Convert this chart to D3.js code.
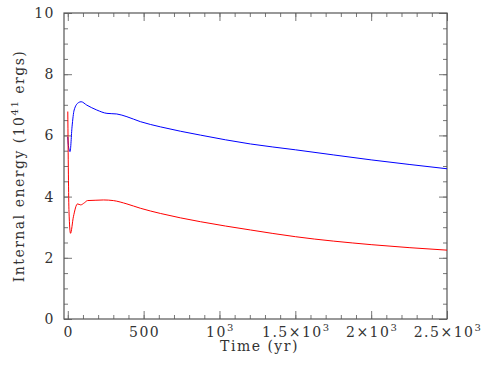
<!DOCTYPE html>
<html lang="en">
<head>
<meta charset="UTF-8">
<title>Internal energy</title>
<script src="https://cdn.jsdelivr.net/npm/d3@7"></script>
<style>
  body { margin: 0; background: #fff; }
  text { font-family: "DejaVu Serif", "Liberation Serif", serif; fill: #333; letter-spacing: 1.5px; }
</style>
</head>
<body>
<div id="chart"></div>
<script>
// data (time in yr, energy in 1e41 ergs)
var blueTime = [0, 5, 15, 28, 42, 70, 88, 125, 191, 258, 323, 390, 478, 610, 874, 1204, 1500, 2000, 2500];
var blueEnergy = [5.95, 5.62, 5.47, 6.28, 6.83, 7.07, 7.10, 6.99, 6.83, 6.72, 6.70, 6.61, 6.45, 6.28, 6.01, 5.72, 5.53, 5.20, 4.91];
var redTime = [0, 8, 18, 37, 64, 85, 110, 130, 180, 235, 300, 390, 478, 610, 874, 1204, 1500, 2000, 2500];
var redEnergy = [6.78, 3.50, 2.80, 3.34, 3.76, 3.73, 3.80, 3.87, 3.88, 3.89, 3.87, 3.76, 3.62, 3.45, 3.18, 2.91, 2.69, 2.43, 2.25];

var xTickVals = [0, 500, 1000, 1500, 2000, 2500];
var xTickBase = ["0", "500", "10", "1.5\u00d710", "2\u00d710", "2.5\u00d710"];
var xTickSup = ["", "", "3", "3", "3", "3"];
var yTickVals = [0, 2, 4, 6, 8, 10];

var width = 491, height = 367;
var margin = { left: 64, top: 13, right: 44, bottom: 48 };
var w = width - margin.left - margin.right;
var h = height - margin.top - margin.bottom;

var svg = d3.select("#chart").append("svg")
    .attr("width", width).attr("height", height);
var g = svg.append("g")
    .attr("transform", "translate(" + margin.left + "," + margin.top + ")");

var x = d3.scaleLinear().domain([-25, 2500]).range([0, w]);
var y = d3.scaleLinear().domain([0, 10]).range([h, 0]);

// ticks on all four sides, pointing inward
var xMinor = d3.range(0, 2501, 100);
var yMinor = d3.range(0, 10.01, 0.5);

function styleAxis(sel) {
    sel.select(".domain").remove();
    sel.selectAll("line").attr("stroke", "#777");
}
g.append("g").attr("transform", "translate(0," + h + ")")
    .call(d3.axisBottom(x).tickValues(xMinor).tickSize(-4).tickFormat("")).call(styleAxis);
g.append("g").attr("transform", "translate(0," + h + ")")
    .call(d3.axisBottom(x).tickValues(xTickVals).tickSize(-8).tickFormat("")).call(styleAxis);
g.append("g")
    .call(d3.axisTop(x).tickValues(xMinor).tickSize(-4).tickFormat("")).call(styleAxis);
g.append("g")
    .call(d3.axisTop(x).tickValues(xTickVals).tickSize(-8).tickFormat("")).call(styleAxis);
g.append("g")
    .call(d3.axisLeft(y).tickValues(yMinor).tickSize(-4).tickFormat("")).call(styleAxis);
g.append("g")
    .call(d3.axisLeft(y).tickValues(yTickVals).tickSize(-8).tickFormat("")).call(styleAxis);
g.append("g").attr("transform", "translate(" + w + ",0)")
    .call(d3.axisRight(y).tickValues(yMinor).tickSize(-4).tickFormat("")).call(styleAxis);
g.append("g").attr("transform", "translate(" + w + ",0)")
    .call(d3.axisRight(y).tickValues(yTickVals).tickSize(-8).tickFormat("")).call(styleAxis);

g.append("rect").attr("width", w).attr("height", h)
    .attr("fill", "none").attr("stroke", "#555").attr("stroke-width", 1.2);

// tick labels
var xl = g.selectAll(".xl").data(xTickVals).enter().append("text")
    .attr("x", function(d) { return x(d) + 1; })
    .attr("y", h + 18)
    .attr("text-anchor", "middle")
    .style("font-size", "14px");
xl.append("tspan").text(function(d, i) { return xTickBase[i]; });
xl.append("tspan").attr("dy", -6).style("font-size", "10px")
    .text(function(d, i) { return xTickSup[i]; });

g.selectAll(".yl").data(yTickVals).enter().append("text")
    .attr("x", -9)
    .attr("y", function(d) { return y(d) + 5; })
    .attr("text-anchor", "end")
    .style("font-size", "14px")
    .text(function(d) { return d; });

// axis titles
g.append("text")
    .attr("x", w / 2 + 4).attr("y", h + 32)
    .attr("text-anchor", "middle").style("font-size", "14px")
    .text("Time (yr)");

var yt = g.append("text")
    .attr("transform", "translate(-40," + (h / 2) + ") rotate(-90)")
    .attr("text-anchor", "middle").style("font-size", "14px");
yt.append("tspan").text("Internal energy (10");
yt.append("tspan").attr("dy", -6).style("font-size", "10px").text("41");
yt.append("tspan").attr("dy", 6).text("  ergs)");

// curves
var line = d3.line()
    .x(function(d) { return x(d[0]); })
    .y(function(d) { return y(d[1]); })
    .curve(d3.curveMonotoneX);

g.append("path")
    .datum(d3.zip(blueTime, blueEnergy))
    .attr("d", line).attr("fill", "none")
    .attr("stroke", "#0000ff").attr("stroke-width", 1);
g.append("path")
    .datum(d3.zip(redTime, redEnergy))
    .attr("d", line).attr("fill", "none")
    .attr("stroke", "#ff0000").attr("stroke-width", 1);
</script>
</body>
</html>
